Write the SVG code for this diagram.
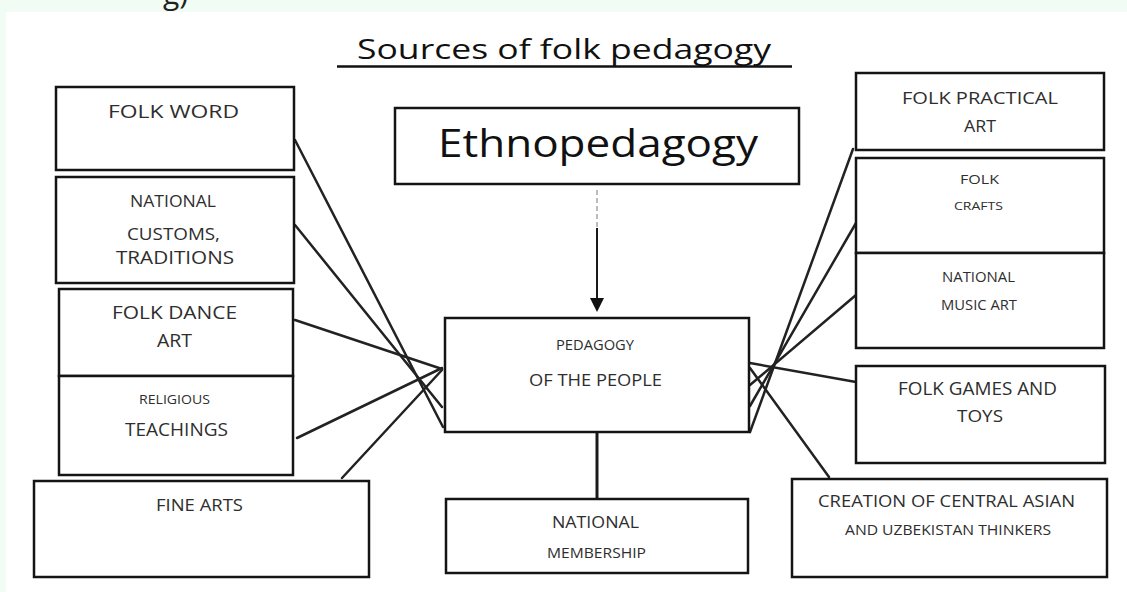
<svg xmlns="http://www.w3.org/2000/svg" width="1127" height="592" viewBox="0 0 1127 592">
  <style>
    .box { fill: #ffffff; stroke: #141414; stroke-width: 2.5; }
    .t { font-family: "Open Sans", "Liberation Sans", sans-serif; fill: #2e2e2e; }
    .big { font-family: "Open Sans", "Liberation Sans", sans-serif; fill: #111111; }
    .conn { stroke: #222222; stroke-width: 2.5; fill: none; stroke-linecap: round; }
  </style>
  <defs>
    <marker id="arrow" markerWidth="14" markerHeight="14" refX="12" refY="7" orient="auto" markerUnits="userSpaceOnUse" viewBox="0 0 14 14">
      <path d="M0,0 L14,7 L0,14 Z" fill="#111111"/>
    </marker>
  </defs>

  <rect x="0" y="0" width="1127" height="592" fill="#f1fcf4"/>
  <rect x="6" y="12" width="1121" height="580" fill="#ffffff"/>
  <text x="163" y="4" font-family="Open Sans, Liberation Sans, sans-serif" font-size="30" fill="#222">g)</text>

  <g id="title">
    <text class="big" x="357" y="59" font-size="28" textLength="414" lengthAdjust="spacingAndGlyphs">Sources of folk pedagogy</text>
    <line x1="337" y1="66.5" x2="792" y2="66.5" stroke="#111" stroke-width="2.5"/>
  </g>

  <g id="connectors">
    <line class="conn" x1="295" y1="140" x2="443" y2="427"/>
    <line class="conn" x1="295" y1="225" x2="442" y2="407"/>
    <line class="conn" x1="295" y1="320" x2="442" y2="369"/>
    <line class="conn" x1="297" y1="438" x2="442" y2="368"/>
    <line class="conn" x1="342" y1="478" x2="442" y2="370"/>
    <line class="conn" x1="853" y1="149" x2="750" y2="432"/>
    <line class="conn" x1="856" y1="223" x2="750" y2="406"/>
    <line class="conn" x1="856" y1="295" x2="750" y2="385"/>
    <line class="conn" x1="856" y1="382" x2="750" y2="363"/>
    <line class="conn" x1="750" y1="368" x2="829" y2="477"/>
    <line x1="597" y1="190" x2="597" y2="230" stroke="#bbbbbb" stroke-width="2" stroke-dasharray="5,3"/>
    <line x1="597" y1="228" x2="597" y2="310" stroke="#1a1a1a" stroke-width="2" marker-end="url(#arrow)"/>
    <line x1="597" y1="425" x2="597" y2="500" stroke="#1a1a1a" stroke-width="3"/>
  </g>

  <g id="folk-word">
    <rect class="box" x="56" y="87" width="238" height="83"/>
    <text class="t" x="108" y="118" font-size="19" textLength="131" lengthAdjust="spacingAndGlyphs">FOLK WORD</text>
  </g>
  <g id="customs">
    <rect class="box" x="56" y="177" width="238" height="106"/>
    <text class="t" x="130" y="207" font-size="16.5" textLength="86" lengthAdjust="spacingAndGlyphs">NATIONAL</text>
    <text class="t" x="127" y="240" font-size="17" textLength="93" lengthAdjust="spacingAndGlyphs">CUSTOMS,</text>
    <text class="t" x="116" y="264" font-size="18" textLength="118" lengthAdjust="spacingAndGlyphs">TRADITIONS</text>
  </g>
  <g id="folk-dance">
    <rect class="box" x="59" y="289" width="234" height="87"/>
    <text class="t" x="112" y="319" font-size="18.5" textLength="125" lengthAdjust="spacingAndGlyphs">FOLK DANCE</text>
    <text class="t" x="157" y="347" font-size="18" textLength="35" lengthAdjust="spacingAndGlyphs">ART</text>
  </g>
  <g id="religious">
    <rect class="box" x="59" y="376" width="234" height="99"/>
    <text class="t" x="139" y="404" font-size="12.5" textLength="71" lengthAdjust="spacingAndGlyphs">RELIGIOUS</text>
    <text class="t" x="125" y="436" font-size="18" textLength="103" lengthAdjust="spacingAndGlyphs">TEACHINGS</text>
  </g>
  <g id="fine-arts">
    <rect class="box" x="34" y="481" width="335" height="96"/>
    <text class="t" x="156" y="511" font-size="17" textLength="87" lengthAdjust="spacingAndGlyphs">FINE ARTS</text>
  </g>

  <g id="ethnopedagogy">
    <rect class="box" x="395" y="108" width="404" height="76"/>
    <text class="big" x="438" y="157" font-size="38" textLength="320" lengthAdjust="spacingAndGlyphs">Ethnopedagogy</text>
  </g>
  <g id="pedagogy-people">
    <rect class="box" x="445" y="318" width="304" height="114"/>
    <text class="t" x="556" y="350" font-size="14" textLength="78" lengthAdjust="spacingAndGlyphs">PEDAGOGY</text>
    <text class="t" x="529" y="386" font-size="16" textLength="133" lengthAdjust="spacingAndGlyphs">OF THE PEOPLE</text>
  </g>
  <g id="membership">
    <rect class="box" x="446" y="499" width="302" height="74"/>
    <text class="t" x="552" y="528" font-size="17" textLength="87" lengthAdjust="spacingAndGlyphs">NATIONAL</text>
    <text class="t" x="547" y="558" font-size="14" textLength="99" lengthAdjust="spacingAndGlyphs">MEMBERSHIP</text>
  </g>

  <g id="practical-art">
    <rect class="box" x="856" y="73" width="248" height="77"/>
    <text class="t" x="902" y="104" font-size="17" textLength="156" lengthAdjust="spacingAndGlyphs">FOLK PRACTICAL</text>
    <text class="t" x="964" y="132" font-size="16" textLength="32" lengthAdjust="spacingAndGlyphs">ART</text>
  </g>
  <g id="crafts">
    <rect class="box" x="856" y="158" width="248" height="95"/>
    <text class="t" x="960" y="184" font-size="13.5" textLength="39" lengthAdjust="spacingAndGlyphs">FOLK</text>
    <text class="t" x="954" y="210" font-size="11.5" textLength="49" lengthAdjust="spacingAndGlyphs">CRAFTS</text>
  </g>
  <g id="music-art">
    <rect class="box" x="856" y="253" width="248" height="95"/>
    <text class="t" x="942" y="282" font-size="14.5" textLength="73" lengthAdjust="spacingAndGlyphs">NATIONAL</text>
    <text class="t" x="941" y="310" font-size="14" textLength="76" lengthAdjust="spacingAndGlyphs">MUSIC ART</text>
  </g>
  <g id="games-toys">
    <rect class="box" x="856" y="366" width="249" height="97"/>
    <text class="t" x="898" y="395" font-size="17.5" textLength="159" lengthAdjust="spacingAndGlyphs">FOLK GAMES AND</text>
    <text class="t" x="957" y="422" font-size="17" textLength="46" lengthAdjust="spacingAndGlyphs">TOYS</text>
  </g>
  <g id="thinkers">
    <rect class="box" x="792" y="479" width="315" height="98"/>
    <text class="t" x="818" y="507" font-size="16.5" textLength="257" lengthAdjust="spacingAndGlyphs">CREATION OF CENTRAL ASIAN</text>
    <text class="t" x="845" y="535" font-size="14" textLength="206" lengthAdjust="spacingAndGlyphs">AND UZBEKISTAN THINKERS</text>
  </g>
</svg>
